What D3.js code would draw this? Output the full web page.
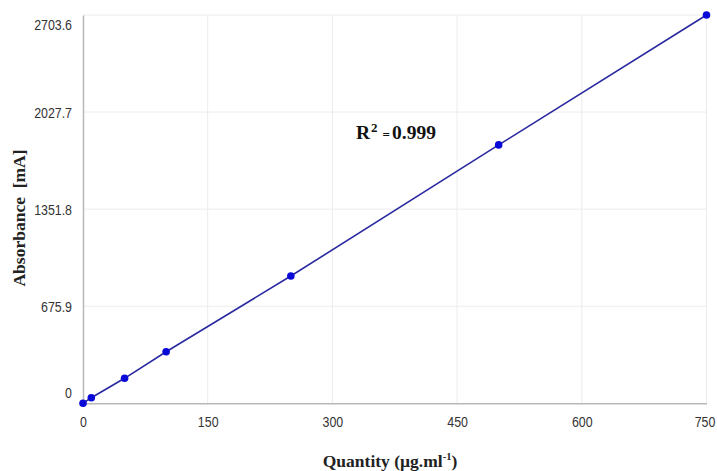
<!DOCTYPE html>
<html>
<head>
<meta charset="utf-8">
<script src="https://cdn.jsdelivr.net/npm/d3@7"></script>
<style>
  body { margin: 0; background: #fff; }
  svg { display: block; }
</style>
</head>
<body>
<div class="svg-div"></div>
<script>
// calibration points
const quantity = [0, 10, 50, 100, 250, 500, 750]
const absorbance = [0, 39, 174, 359, 886, 1799, 2703.6]
const xTicks = [0, 150, 300, 450, 600, 750]
const yTicks = [0, 675.9, 1351.8, 2027.7, 2703.6]
const yTickLabels = ["0", "675.9", "1351.8", "2027.7", "2703.6"]

const width = 717, height = 471
const plotLeft = 83, plotRight = 706.5, plotTop = 15, plotBottom = 403.3
const squeeze = 0.8

const svg = d3.select(".svg-div").append("svg")
    .attr("width", width)
    .attr("height", height)

let xScale = d3.scaleLinear().domain([0, 750]).range([plotLeft, plotRight])
let yScale = d3.scaleLinear().domain([0, 2703.6]).range([plotBottom, plotTop])

// narrow looking tick labels: scale glyphs horizontally around the tick
function narrow(sel) {
    sel.attr("font-family", "Liberation Sans, Arial, sans-serif")
        .attr("font-size", 15.5).attr("fill", "#333")
        .attr("transform", "scale(" + squeeze + ",1)")
}

// grid
svg.append("g").selectAll("line")
    .data(xTicks.slice(1))
    .join("line")
    .attr("x1", d => xScale(d)).attr("x2", d => xScale(d))
    .attr("y1", plotTop).attr("y2", plotBottom)
    .attr("stroke", "#ececec").attr("stroke-width", 1)
svg.append("g").selectAll("line")
    .data(yTicks.slice(1))
    .join("line")
    .attr("x1", plotLeft).attr("x2", plotRight)
    .attr("y1", d => yScale(d)).attr("y2", d => yScale(d))
    .attr("stroke", "#ececec").attr("stroke-width", 1)

// x axis
let xAxis = d3.axisBottom(xScale).tickValues(xTicks).tickSize(0).tickPadding(14)
let gx = svg.append("g").attr("transform", "translate(0," + plotBottom + ")").call(xAxis)
gx.select(".domain").attr("stroke", "#b8b8b8").attr("stroke-width", 1.5)
gx.selectAll("text").attr("dy", "0.65em").call(narrow)
    .attr("x", (d, i) => i === xTicks.length - 1 ? -2 / squeeze : 0)

// y axis, end labels nudged inward like the original
let yAxis = d3.axisLeft(yScale).tickValues(yTicks).tickSize(0).tickPadding(11)
    .tickFormat((d, i) => yTickLabels[i])
let gy = svg.append("g").attr("transform", "translate(" + plotLeft + ",0)").call(yAxis)
gy.select(".domain").attr("stroke", "#b8b8b8").attr("stroke-width", 1.5)
gy.selectAll("text")
    .attr("dy", (d, i) => i === 0 ? "-0.4em" : (i === yTicks.length - 1 ? "0.95em" : "0.32em"))
    .call(narrow)
    .attr("x", -11 / squeeze)

// line and points
const pts = quantity.map((q, i) => [q, absorbance[i]])
const line = d3.line().x(d => xScale(d[0])).y(d => yScale(d[1]))
svg.append("path")
    .datum(pts)
    .attr("d", line)
    .attr("fill", "none")
    .attr("stroke", "#2a2aa0")
    .attr("stroke-width", 1.6)
svg.append("g").selectAll("circle")
    .data(pts)
    .join("circle")
    .attr("cx", d => xScale(d[0]))
    .attr("cy", d => yScale(d[1]))
    .attr("r", 3.8)
    .attr("fill", "#0a0ad8")

// R squared note
let r2 = svg.append("text")
    .attr("x", 356).attr("y", 139)
    .attr("font-family", "Liberation Serif, Times New Roman, serif")
    .attr("font-weight", "bold").attr("font-size", 19.5).attr("fill", "#111")
r2.append("tspan").text("R")
r2.append("tspan").text("2").attr("font-size", 13).attr("dy", -7).attr("dx", 1)
r2.append("tspan").text("=").attr("font-size", 13).attr("dy", 7).attr("dx", 5)
r2.append("tspan").text("0.999").attr("dx", 2)

// axis titles
let xt = svg.append("text")
    .attr("x", 390).attr("y", 467)
    .attr("text-anchor", "middle")
    .attr("font-family", "Liberation Serif, Times New Roman, serif")
    .attr("font-weight", "bold").attr("font-size", 17.5).attr("fill", "#222")
xt.append("tspan").text("Quantity (\u00b5g.ml")
xt.append("tspan").text("-1").attr("font-size", 10.5).attr("dy", -7)
xt.append("tspan").text(")").attr("dy", 7)

svg.append("text")
    .attr("transform", "translate(25,218) rotate(-90)")
    .attr("text-anchor", "middle")
    .attr("font-family", "Liberation Serif, Times New Roman, serif")
    .attr("font-weight", "bold").attr("font-size", 17.5).attr("fill", "#222")
    .attr("xml:space", "preserve")
    .text("Absorbance  [mA]")
</script>
</body>
</html>
